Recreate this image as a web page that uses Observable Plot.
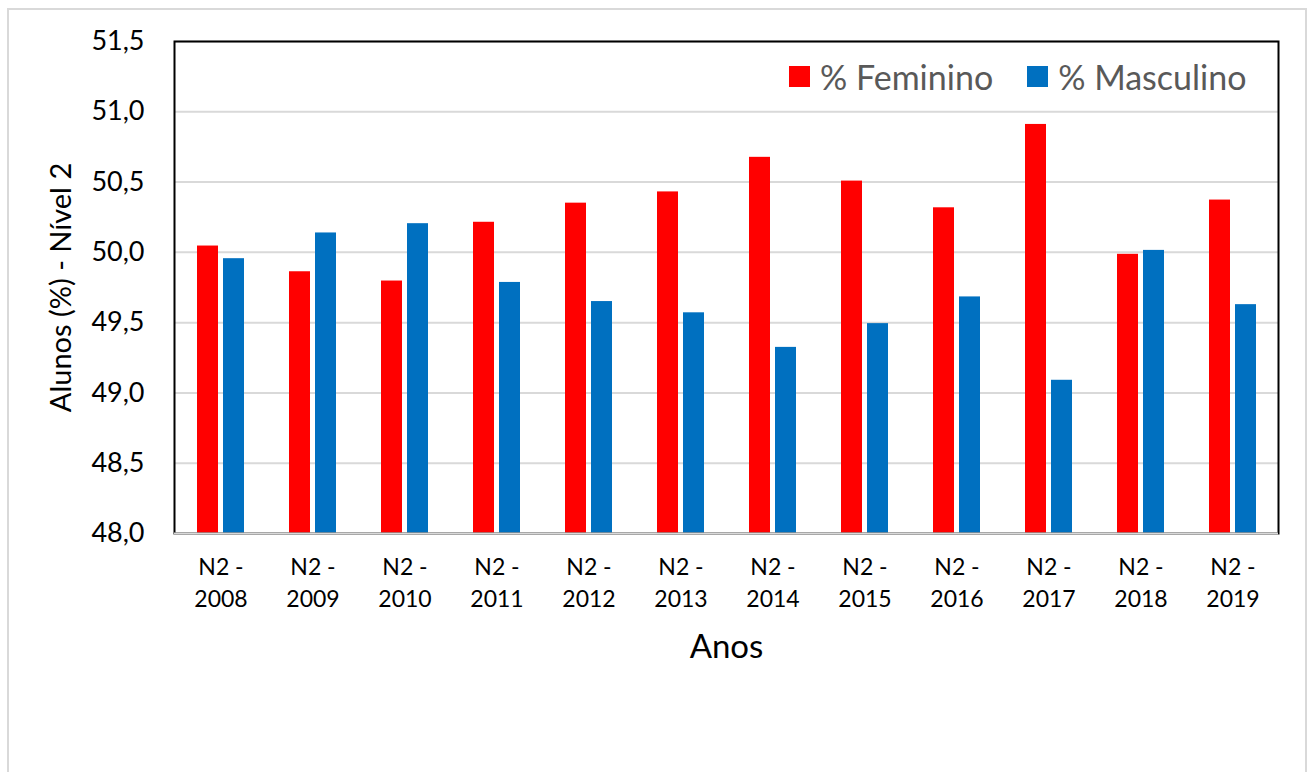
<!DOCTYPE html>
<html><head><meta charset="utf-8">
<script src="https://cdn.jsdelivr.net/npm/d3@7"></script>
<script src="https://cdn.jsdelivr.net/npm/@observablehq/plot@0.6"></script>
<style>
html,body{margin:0;padding:0;background:#fff;}
#wrap{position:relative;width:1309px;height:772px;overflow:hidden;font-family:Lato,sans-serif;}
#border{position:absolute;left:7px;top:8px;width:1300px;height:800px;border:2px solid #d9d9d9;box-sizing:border-box;}
#chart{position:absolute;left:0;top:0;}
#legend{position:absolute;left:789px;top:56px;}
#legend svg{margin-right:10px !important;}
</style></head><body>
<div id="wrap"><div id="border"></div><div id="chart"></div><div id="legend"></div></div>
<script>
const anos = ["2008","2009","2010","2011","2012","2013","2014","2015","2016","2017","2018","2019"];
const feminino = [50.045, 49.862, 49.796, 50.214, 50.35, 50.43, 50.676, 50.507, 50.317, 50.91, 49.986, 50.372];
const masculino = [49.955, 50.138, 50.204, 49.786, 49.65, 49.57, 49.324, 49.493, 49.683, 49.09, 50.014, 49.628];
const series = ["% Feminino", "% Masculino"];
const colors = ["#FF0000", "#0070C0"];
const yTicks = [48, 48.5, 49, 49.5, 50, 50.5, 51, 51.5];
const xTitle = "Anos";
const yTitle = "Alunos (%) - Nível 2";

const rows = anos.flatMap((a, i) => [
  {ano: a, serie: series[0], valor: feminino[i]},
  {ano: a, serie: series[1], valor: masculino[i]}
]);
const fmt = v => d3.format(".1f")(v).replace(".", ",");

const chart = Plot.plot({
  width: 1309, height: 772,
  marginTop: 41, marginLeft: 174, marginRight: 31, marginBottom: 239,
  style: {fontFamily: "Lato, sans-serif", background: "transparent", color: "#000"},
  x: {domain: anos, paddingInner: 0.777, paddingOuter: 0.3885},
  y: {domain: [48, 51.5]},
  color: {domain: series, range: colors},
  marks: [
    Plot.gridY(yTicks, {stroke: "#d9d9d9", strokeOpacity: 1, strokeWidth: 2}),
    Plot.barY(rows.filter(d => d.serie === series[0]), {x: "ano", y1: 48, y2: "valor", fill: "serie", dx: -13}),
    Plot.barY(rows.filter(d => d.serie === series[1]), {x: "ano", y1: 48, y2: "valor", fill: "serie", dx: 13}),
    Plot.frame({stroke: "#000", strokeWidth: 2}),
    Plot.ruleY([48], {stroke: "#d9d9d9", strokeWidth: 2}),
    Plot.axisY(yTicks, {tickSize: 0, tickPadding: 30, tickFormat: fmt, fontSize: 27, label: null}),
    Plot.axisX({tickSize: 0, tickPadding: 19, fontSize: 23, lineHeight: 1.39, tickFormat: d => "N2 -\n" + d, label: null}),
    Plot.text([xTitle], {text: d => d, frameAnchor: "bottom", dy: 114, fontSize: 33, lineAnchor: "middle"}),
    Plot.text([yTitle], {text: d => d, frameAnchor: "left", dx: -113, rotate: -90, fontSize: 29, textAnchor: "middle", lineAnchor: "middle"})
  ]
});
document.getElementById("chart").appendChild(chart);
const leg = chart.legend("color", {swatchSize: 21, style: {fontSize: "34px", color: "#595959", fontFamily: "Lato, sans-serif"}});
document.getElementById("legend").appendChild(leg);
</script>
</body></html>
